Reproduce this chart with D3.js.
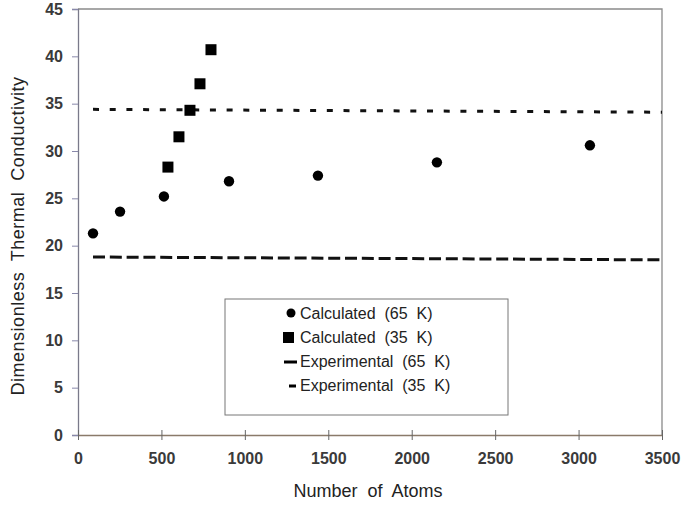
<!DOCTYPE html>
<html>
<head>
<meta charset="utf-8">
<script src="https://cdn.jsdelivr.net/npm/d3@7"></script>
<style>
  body { margin: 0; background: #fff; }
  text { font-family: "Liberation Sans", Arial, sans-serif; }
</style>
</head>
<body>
<div id="chart"></div>
<script>
// data
var calc65X = [90, 252, 515, 905, 1438, 2151, 3068];
var calc65Y = [21.3, 23.6, 25.2, 26.8, 27.4, 28.8, 30.6];
var calc35X = [539, 605, 671, 731, 797];
var calc35Y = [28.3, 31.5, 34.3, 37.1, 40.7];
// experimental values are flat lines (scan is slightly tilted)
var expX = [90, 3500];
var exp65Y = [18.8, 18.5];
var exp35Y = [34.4, 34.1];
var xTicks = [0, 500, 1000, 1500, 2000, 2500, 3000, 3500];
var yTicks = [0, 5, 10, 15, 20, 25, 30, 35, 40, 45];
var legendLabels = ["Calculated  (65  K)", "Calculated  (35  K)", "Experimental  (65  K)", "Experimental  (35  K)"];

var svgWidth = 681, svgHeight = 508;
var margin = {top: 9, right: 19, bottom: 73, left: 78};
var chartWidth = svgWidth - margin.left - margin.right;
var chartHeight = svgHeight - margin.top - margin.bottom;

var svg = d3.select("#chart").append("svg")
    .attr("width", svgWidth)
    .attr("height", svgHeight);

var chartGroup = svg.append("g")
    .attr("transform", `translate(${margin.left}, ${margin.top})`);

var xScale = d3.scaleLinear().domain([0, 3500]).range([0, chartWidth]);
var yScale = d3.scaleLinear().domain([0, 45]).range([chartHeight, 0]);

// frame (top and right)
chartGroup.append("path")
    .attr("d", `M0,0H${chartWidth}V${chartHeight}`)
    .attr("fill", "none")
    .attr("stroke", "#8a8a8a")
    .attr("stroke-width", 1.3);

// y axis
var yAxis = d3.axisLeft(yScale).tickValues(yTicks).tickSize(6).tickPadding(9);
var yG = chartGroup.append("g").call(yAxis);
yG.select(".domain").attr("stroke", "#7a7a8a").attr("stroke-width", 1.3);
yG.selectAll(".tick line").attr("stroke", "#8888aa");
yG.selectAll("text").attr("font-size", 16).attr("fill", "#3a3a3a").attr("font-weight", "bold");

// x axis (ticks cross the line)
var xAxis = d3.axisBottom(xScale).tickValues(xTicks).tickFormat(d3.format("d"))
    .tickSizeInner(5).tickSizeOuter(0).tickPadding(13);
var xG = chartGroup.append("g")
    .attr("transform", `translate(0, ${chartHeight})`)
    .call(xAxis);
xG.select(".domain").attr("stroke", "#8a7a6a").attr("stroke-width", 1.5);
xG.selectAll(".tick line").attr("y1", -5).attr("stroke", "#666");
xG.selectAll("text").attr("font-size", 16).attr("fill", "#3a3a3a").attr("font-weight", "bold");

// axis titles
svg.append("text")
    .attr("transform", "translate(24, 236) rotate(-90)")
    .attr("text-anchor", "middle")
    .attr("font-size", 18)
    .attr("letter-spacing", 0.5)
    .attr("fill", "#222")
    .style("white-space", "pre")
    .text("Dimensionless  Thermal  Conductivity");

svg.append("text")
    .attr("x", 368)
    .attr("y", 497)
    .attr("text-anchor", "middle")
    .attr("font-size", 18)
    .attr("fill", "#222")
    .style("white-space", "pre")
    .text("Number  of  Atoms");

// experimental lines
var line = d3.line().x(d => xScale(d[0])).y(d => yScale(d[1]));

chartGroup.append("path")
    .datum(d3.zip(expX, exp35Y))
    .attr("d", line)
    .attr("fill", "none")
    .attr("stroke", "#111")
    .attr("stroke-width", 3)
    .attr("stroke-dasharray", "6,10.7");

chartGroup.append("path")
    .datum(d3.zip(expX, exp65Y))
    .attr("d", line)
    .attr("fill", "none")
    .attr("stroke", "#111")
    .attr("stroke-width", 3)
    .attr("stroke-dasharray", "12,4.8");

// calculated 65 K
chartGroup.selectAll(".c65")
    .data(d3.zip(calc65X, calc65Y))
    .enter()
    .append("circle")
    .attr("class", "c65")
    .attr("cx", d => xScale(d[0]))
    .attr("cy", d => yScale(d[1]))
    .attr("r", 5.2)
    .attr("fill", "#000");

// calculated 35 K
var sq = 11;
chartGroup.selectAll(".c35")
    .data(d3.zip(calc35X, calc35Y))
    .enter()
    .append("rect")
    .attr("class", "c35")
    .attr("x", d => xScale(d[0]) - sq / 2)
    .attr("y", d => yScale(d[1]) - sq / 2)
    .attr("width", sq)
    .attr("height", sq)
    .attr("fill", "#000");

// legend
var legend = svg.append("g").attr("transform", "translate(225, 299)");
legend.append("rect")
    .attr("width", 283)
    .attr("height", 116)
    .attr("fill", "#fff")
    .attr("stroke", "#777")
    .attr("stroke-width", 1);

var rows = legend.selectAll(".row")
    .data(legendLabels)
    .enter()
    .append("g")
    .attr("transform", (d, i) => `translate(0, ${14 + i * 24})`);

rows.append("text")
    .attr("x", 75)
    .attr("y", 6)
    .attr("font-size", 16)
    .attr("fill", "#222")
    .style("white-space", "pre")
    .text(d => d);

rows.filter((d, i) => i === 0).append("circle")
    .attr("cx", 66).attr("cy", 0).attr("r", 4.5).attr("fill", "#000");
rows.filter((d, i) => i === 1).append("rect")
    .attr("x", 58).attr("y", -5).attr("width", 11).attr("height", 11).attr("fill", "#000");
rows.filter((d, i) => i === 2).append("line")
    .attr("x1", 59).attr("x2", 72).attr("y1", 1).attr("y2", 1)
    .attr("stroke", "#000").attr("stroke-width", 3);
rows.filter((d, i) => i === 3).append("line")
    .attr("x1", 64).attr("x2", 71).attr("y1", 1).attr("y2", 1)
    .attr("stroke", "#000").attr("stroke-width", 3);
</script>
</body>
</html>
